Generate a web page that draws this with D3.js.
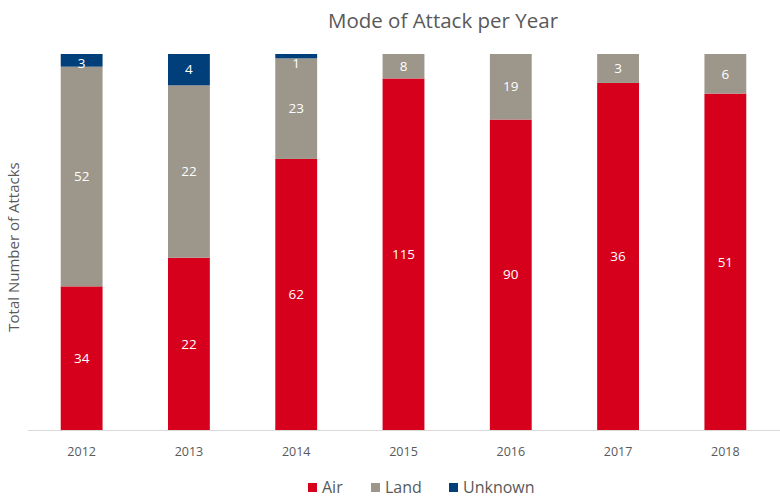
<!DOCTYPE html>
<html><head><meta charset="utf-8">
<script src="https://cdn.jsdelivr.net/npm/d3@7"></script>
<style>body{margin:0;background:#fff}svg{font-family:"Open Sans",Lato,sans-serif}</style>
</head><body><svg id="c" width="780" height="497"></svg>
<script>
const years = ["2012","2013","2014","2015","2016","2017","2018"];
const air = [34,22,62,115,90,36,51];
const land = [52,22,23,8,19,3,6];
const unknown = [3,4,1,0,0,0,0];
const seriesNames = ["Air","Land","Unknown"];
const colors = ["#D6001C","#9C968B","#003F7A"];

const svg = d3.select("#c");
const plotTop=54, plotBottom=430, plotLeft=28, plotRight=779;
const x = d3.scaleBand().domain(years).range([plotLeft,plotRight]).paddingInner(0.61).paddingOuter(0.305);
const y = d3.scaleLinear().domain([0,1]).range([plotBottom,plotTop]);

const rows = years.map((yr,i)=>({year:yr,Air:air[i],Land:land[i],Unknown:unknown[i]}));
const norm = rows.map(r=>{const t=r.Air+r.Land+r.Unknown;return {year:r.year,Air:r.Air/t,Land:r.Land/t,Unknown:r.Unknown/t,raw:r};});
const stack = d3.stack().keys(seriesNames)(norm);

svg.append("text").attr("x",443).attr("y",28).attr("text-anchor","middle").attr("font-size",20.5).attr("fill","#595959").text("Mode of Attack per Year");

stack.forEach((s,si)=>{
  const g = svg.append("g");
  s.forEach(d=>{
    const raw = d.data.raw[s.key];
    if(!raw) return;
    g.append("rect").attr("x",x(d.data.year)).attr("width",x.bandwidth())
      .attr("y",y(d[1])).attr("height",y(d[0])-y(d[1])).attr("fill",colors[si]);
    let cy = (y(d[0])+y(d[1]))/2;
    cy = Math.max(cy, plotTop+9);
    g.append("text").attr("x",x(d.data.year)+x.bandwidth()/2).attr("y",cy).attr("dy","0.35em")
      .attr("text-anchor","middle").attr("fill","#fff").attr("font-size",13.5).text(raw);
  });
});

const ax = svg.append("g").attr("transform",`translate(0,${plotBottom})`).call(d3.axisBottom(x).tickSize(0).tickPadding(17));
ax.select(".domain").attr("stroke","#D9D9D9").attr("d",`M28,0.5H780`);
ax.selectAll("text").attr("font-size",12.5).attr("fill","#595959").attr("font-family","'Open Sans',sans-serif");

svg.append("text").attr("transform","translate(19,247) rotate(-90)").attr("text-anchor","middle")
  .attr("font-size",15).attr("fill","#595959").text("Total Number of Attacks");

const lg = svg.append("g");
const lx = [308,371,449];
seriesNames.forEach((n,i)=>{
  lg.append("rect").attr("x",lx[i]).attr("y",483).attr("width",9).attr("height",9).attr("fill",colors[i]);
  lg.append("text").attr("x",lx[i]+14).attr("y",493).attr("font-size",16).attr("fill","#595959").text(n);
});
</script></body></html>
